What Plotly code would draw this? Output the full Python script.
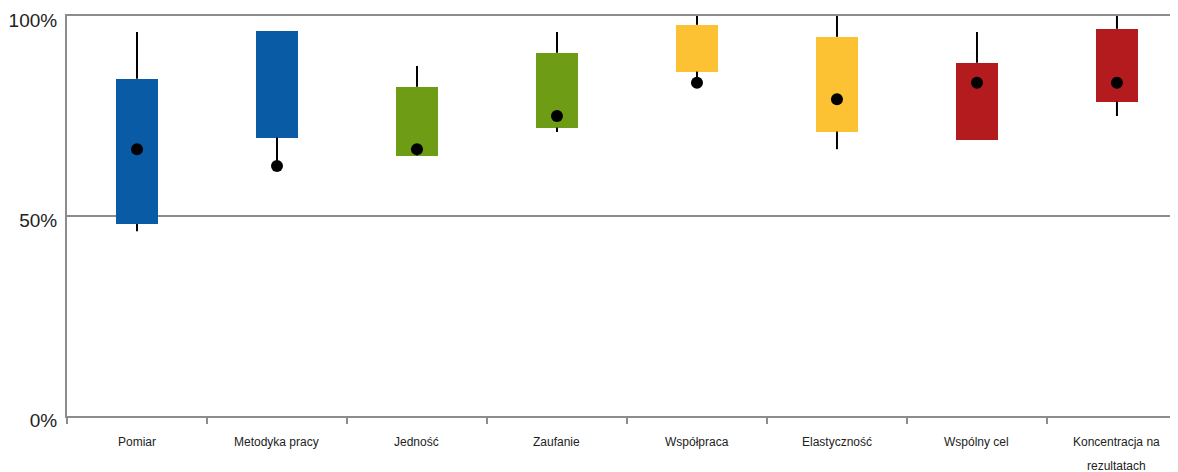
import plotly.graph_objects as go

categories = ["Pomiar", "Metodyka pracy", "Jedność", "Zaufanie", "Współpraca",
              "Elastyczność", "Wspólny cel", "Koncentracja na\nrezultatach"]
whisker_low = [46.2, 62.5, 65.0, 71.0, 83.3, 66.7, 69.1, 75.0]
box_low = [48.0, 69.6, 65.1, 72.1, 86.1, 71.1, 69.1, 78.6]
box_high = [84.3, 96.3, 82.3, 90.8, 97.8, 94.8, 88.3, 96.8]
whisker_high = [96.0, 96.3, 87.5, 96.0, 100.0, 100.0, 96.0, 100.0]
dot_values = [66.7, 62.5, 66.7, 75.0, 83.3, 79.2, 83.3, 83.3]
colors = ["#0a5ba6", "#0a5ba6", "#6e9c14", "#6e9c14", "#fdc233", "#fdc233", "#b31b1e", "#b31b1e"]
y_ticks = [0, 50, 100]
y_tick_labels = ["0%", "50%", "100%"]

xs = list(range(len(categories)))

fig = go.Figure()

# whiskers (upper and lower segments)
wx, wy = [], []
for i in xs:
    wx += [i, i, None, i, i, None]
    wy += [box_high[i], whisker_high[i], None, whisker_low[i], box_low[i], None]
fig.add_trace(go.Scatter(x=wx, y=wy, mode="lines", line=dict(color="black", width=2),
                         hoverinfo="skip", showlegend=False))

fig.add_trace(go.Bar(x=xs, y=[h - l for h, l in zip(box_high, box_low)], base=box_low,
                     width=0.296, marker=dict(color=colors, line=dict(width=0)),
                     showlegend=False))

fig.add_trace(go.Scatter(x=xs, y=dot_values, mode="markers",
                         marker=dict(color="black", size=12), showlegend=False))

for i, c in enumerate(categories):
    for j, line in enumerate(c.split("\n")):
        fig.add_annotation(x=i, y=0, xref="x", yref="paper", text=line, showarrow=False,
                           yanchor="middle", yshift=-26 - 24 * j,
                           font=dict(family="Liberation Sans, Arial", size=12, color="#222"))

fig.update_layout(
    width=1170, height=464,
    margin=dict(l=59, r=0, t=8, b=56),
    paper_bgcolor="white", plot_bgcolor="white",
    xaxis=dict(range=[-0.5, 7.436], tickmode="array", tickvals=[i - 0.5 for i in xs],
               showticklabels=False, ticks="outside", ticklen=6, tickwidth=2,
               tickcolor="#8c8c8c", showgrid=False, zeroline=False, showline=True,
               linecolor="#8c8c8c", linewidth=2, mirror=True,
               fixedrange=True),
    yaxis=dict(range=[0, 100], tickmode="array", tickvals=y_ticks, ticktext=y_tick_labels,
               showgrid=True, gridcolor="#8c8c8c", gridwidth=2, zeroline=False,
               showline=True, linecolor="#8c8c8c", linewidth=2,
               tickfont=dict(family="Liberation Sans, Arial", size=19, color="#222"),
               ticklabelshift=4, ticks="", ticklabelstandoff=4,
               ticklabeloverflow="allow"),
    bargap=0,
)

fig.write_html("out.html")
